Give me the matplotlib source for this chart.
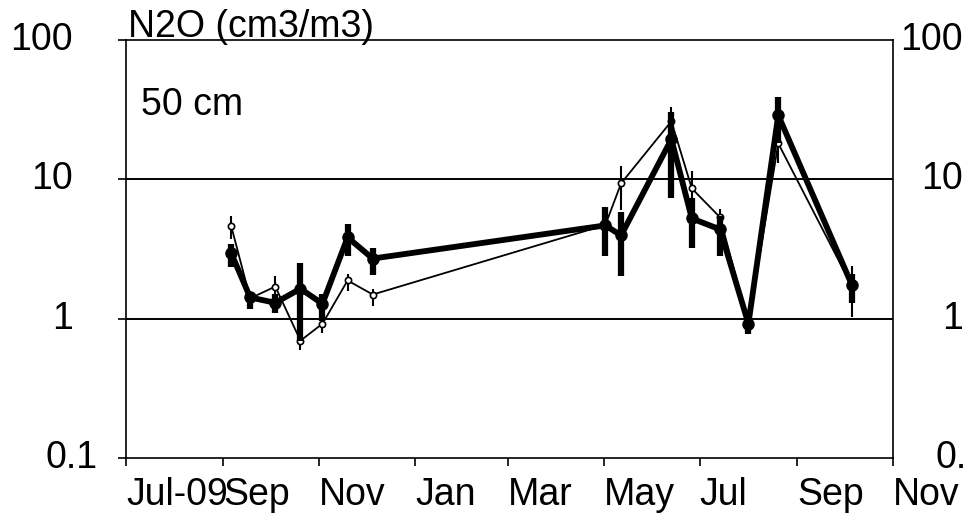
import numpy as np
import pandas as pd
import matplotlib
matplotlib.use("Agg")
import matplotlib.pyplot as plt
import matplotlib.transforms as mtransforms

plt.rcParams['font.family'] = ['Liberation Sans', 'DejaVu Sans']

# sampling dates (both series share them)
dates = pd.to_datetime(['2009-09-06', '2009-09-18', '2009-10-04', '2009-10-20', '2009-11-03',
                        '2009-11-19', '2009-12-05', '2010-05-02', '2010-05-12', '2010-06-13',
                        '2010-06-26', '2010-07-14', '2010-08-01', '2010-08-20', '2010-10-06'])

# thick series (filled circles)
thick = np.array([2.94, 1.42, 1.30, 1.64, 1.28, 3.83, 2.70, 4.67, 3.96, 19.4, 5.24, 4.37, 0.92, 28.8, 1.73])
thick_lo = np.array([2.33, 1.18, 1.10, 0.69, 0.97, 2.80, 2.07, 2.84, 2.04, 7.4, 3.24, 2.84, 0.78, 18.1, 1.30])
thick_hi = np.array([3.46, 1.54, 1.51, 2.49, 1.51, 4.80, 3.24, 6.30, 5.80, 30.4, 7.40, 5.50, 1.05, 39.0, 2.10])

# thin series (open circles)
thin = np.array([4.59, 1.40, 1.70, 0.695, 0.92, 1.88, 1.49, 4.7, 9.36, 26.1, 8.6, 5.33, 0.92, 18.1, 1.70])
thin_lo = np.array([3.76, 1.30, 1.39, 0.60, 0.79, 1.59, 1.24, 4.0, 6.0, 23.0, 7.3, 4.6, 0.85, 13.0, 1.02])
thin_hi = np.array([5.50, 1.50, 2.04, 0.80, 1.02, 2.10, 1.64, 5.5, 12.4, 33.0, 11.4, 6.1, 1.00, 25.3, 2.40])

xtick_dates = pd.to_datetime(['2009-07-01', '2009-09-01', '2009-11-01', '2010-01-01', '2010-03-01',
                              '2010-05-01', '2010-07-01', '2010-09-01', '2010-11-01'])
xtick_labels = ['Jul-09', 'Sep', 'Nov', 'Jan', 'Mar', 'May', 'Jul', 'Sep', 'Nov']
ytick_vals = [100, 10, 1, 0.1]
ytick_labels = ['100', '10', '1', '0.1']

W, H = 963, 519
fig = plt.figure(figsize=(W / 100, H / 100), dpi=100)
ax = fig.add_axes([126 / W, 1 - 458 / H, (893 - 126) / W, (458 - 40) / H])

ax.errorbar(dates, thin, yerr=[thin - thin_lo, thin_hi - thin], fmt='-o', color='k',
            lw=1.3, ms=4.5, mfc='white', mew=1.2, elinewidth=1.5, capsize=0, zorder=3)
ax.errorbar(dates, thick, yerr=[thick - thick_lo, thick_hi - thick], fmt='-o', color='k',
            lw=4.2, ms=8, elinewidth=4.5, capsize=0, zorder=4)

ax.set_yscale('log')
ax.set_ylim(0.1, 100)
ax.set_xlim(xtick_dates[0], xtick_dates[-1])

for v in [10, 1]:
    ax.axhline(v, color='k', lw=1.4, zorder=1)

ax.set_xticks(xtick_dates)
ax.set_xticklabels(xtick_labels, ha='left', fontsize=27)
ax.tick_params(axis='x', direction='out', length=6, width=1.2, pad=8)
ax.set_yticks(ytick_vals)
ax.set_yticklabels([])
ax.yaxis.set_minor_locator(matplotlib.ticker.NullLocator())
ax.tick_params(axis='y', which='major', direction='out', length=6, width=1.2, right=False)

for s in ax.spines.values():
    s.set_linewidth(1.2)

# y labels on both sides, drawn as text (0.1 sits further right, as in the original)
trans = mtransforms.blended_transform_factory(fig.transFigure, ax.transData)
for v, lab in zip(ytick_vals, ytick_labels):
    shift = 25 if lab == '0.1' else 0
    ax.text((73 + shift) / W, v, lab, transform=trans, ha='right', va='center', fontsize=27)
    ax.text((963 + shift) / W, v, lab, transform=trans, ha='right', va='center', fontsize=27, clip_on=False)

fig.text(128 / W, 1 - 37 / H, 'N2O (cm3/m3)', ha='left', va='baseline', fontsize=27)
fig.text(141 / W, 1 - 115 / H, '50 cm', ha='left', va='baseline', fontsize=27)

fig.savefig('out.png', dpi=100)
